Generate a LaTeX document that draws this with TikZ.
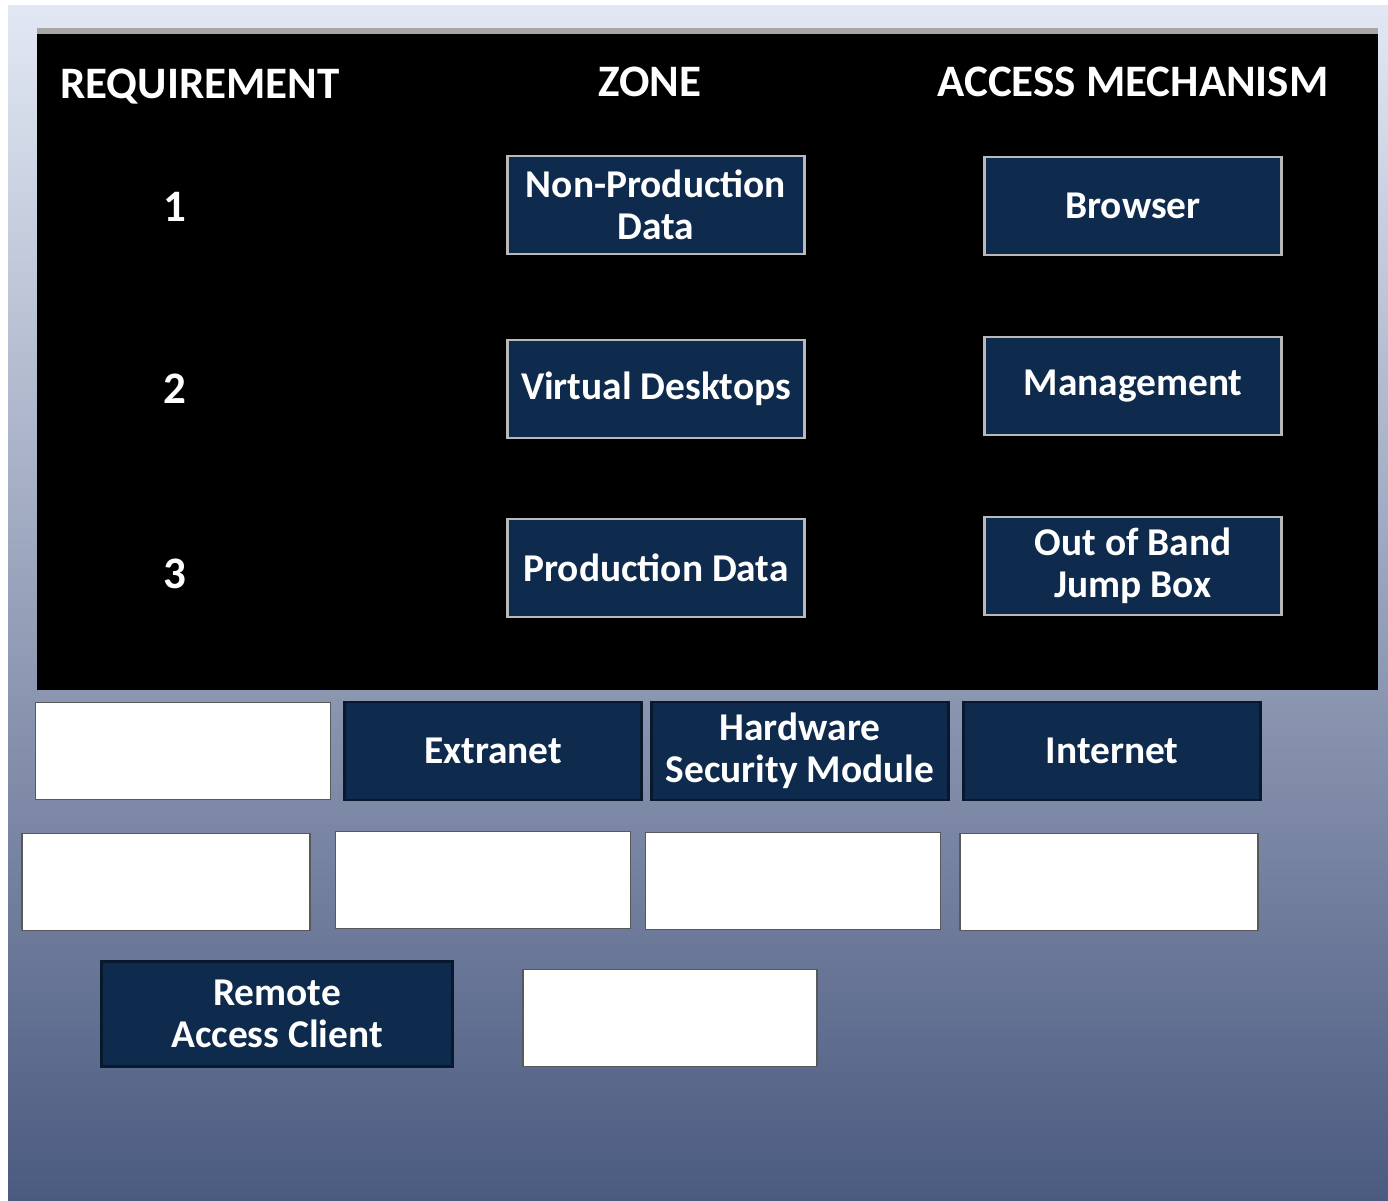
\documentclass[tikz,border=0pt]{standalone}
\usepackage{fontspec}
\setmainfont{Carlito}
\definecolor{navybox}{HTML}{0E2A4D}
\definecolor{bgtop}{HTML}{E2E8F3}
\definecolor{bgmid}{HTML}{9AA2BD}
\definecolor{bgbot}{HTML}{4B5A80}

\begin{document}
\begin{tikzpicture}[x=0.01cm, y=-0.01cm]
\tikzset{heading/.style={text=white, font=\bfseries\fontsize{12.8}{15}\selectfont},
         choice/.style={draw=gray!55, line width=0.8pt, fill=navybox, text=white,
                        font=\bfseries\fontsize{11.2}{12}\selectfont, align=center,
                        minimum width=2.97cm, minimum height=0.98cm, inner sep=0pt},
         tile/.style={choice, draw=navybox!60!black},
         blank/.style={draw=black!65, line width=0.5pt, fill=white,
                       minimum width=2.95cm, minimum height=0.97cm, inner sep=0pt}}
\useasboundingbox (0,0) rectangle (1388,1200);
\fill[white] (0,0) rectangle (1388,1200);
\shade[top color=bgtop, middle color=bgmid, bottom color=bgbot] (8,5) rectangle (1388,1200);
% panel
\fill[black] (37,30) rectangle (1378,690);
\draw[gray!70, line width=1.5pt] (37,31) -- (1378,31);

\node[heading] (req) at (200,87) {REQUIREMENT};
\node[heading] (zone) at (650,82) {ZONE};
\node[heading] (acc) at (1133,82) {ACCESS MECHANISM};
\node[heading] (one) at (175,207) {1};
\node[heading] (two) at (175,389) {2};
\node[heading] (three) at (175,574) {3};

\node[choice] (npd) at (656,205) {Non-Production\\Data};
\node[choice] (vd) at (656,389) {Virtual Desktops};
\node[choice] (pd) at (656,568) {Production Data};
\node[choice] (brw) at (1133,206) {Browser};
\node[choice] (mgmt) at (1133,386) {Management};
\node[choice] (oob) at (1133,566) {Out of Band\\Jump Box};

% options below the panel
\node[blank] (b1) at (183,751) {};
\node[tile] (ext) at (493,751) {Extranet};
\node[tile] (hsm) at (800,751) {Hardware\\Security Module};
\node[tile] (inet) at (1112,751) {Internet};
\node[blank, minimum width=2.88cm] (b2) at (166,882) {};
\node[blank] (b3) at (483,880) {};
\node[blank] (b4) at (793,881) {};
\node[blank, minimum width=2.98cm] (b5) at (1109,882) {};
\node[tile, minimum width=3.5cm, minimum height=1.05cm] (rac) at (277,1014) {Remote\\Access Client};
\node[blank, minimum width=2.94cm] (b6) at (670,1018) {};
\end{tikzpicture}
\end{document}
